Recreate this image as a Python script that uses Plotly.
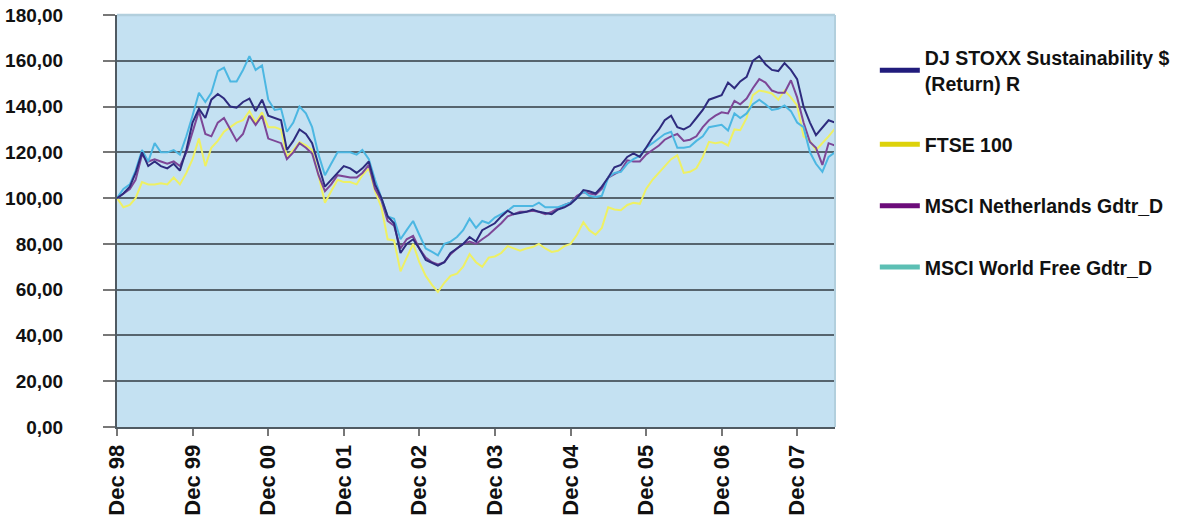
import pandas as pd
import plotly.graph_objects as go

# Monthly observations, Dec 1998 .. Jun 2008
months = pd.date_range("1998-12-01", "2008-06-01", freq="MS")

dj_stoxx = [100, 102, 105, 111, 120, 114, 116, 114, 113, 115, 112, 121, 133, 139, 135, 143, 145.5, 143.5, 140, 139.5,
            142, 143.5, 138, 143, 136, 135, 134, 121, 125, 130, 128, 124, 114, 105, 108, 111, 114, 113, 111, 113,
            116, 106, 100, 92, 89, 76, 80, 82, 78, 73, 71.5, 70.5, 72, 76, 78, 80, 83, 81, 86, 87.5,
            89, 92, 94.5, 93, 93.5, 94, 95, 94, 93.5, 93, 95, 96, 97.5, 100, 103.5, 103, 102, 105, 109, 113.5,
            114.5, 118, 119.5, 118, 122, 126.5, 130, 134, 136, 131, 130, 131.5, 135, 138.5, 143, 144, 145, 150.5, 148, 151,
            153, 160, 162, 158.5, 156, 155.5, 159, 156, 152, 140, 133, 127.5, 131, 134, 133]

ftse_100 = [100, 96, 97, 100, 107, 106, 106, 106.5, 106, 109, 106, 111, 117, 126, 114, 122, 125, 129, 131, 133,
            134, 138, 133, 137.5, 131, 131, 130, 118, 121, 124.5, 123, 121, 110, 98, 103, 108, 107, 107, 106, 110,
            113, 103, 96, 82, 81.5, 68, 74, 80, 72, 66, 62, 59, 63, 66, 67, 70, 75.5, 72, 70, 74,
            74.5, 76, 79, 78, 77, 78, 78.6, 80, 78, 76.5, 77, 79, 80, 84, 89.5, 86, 84, 87, 96, 95,
            94.7, 97, 98, 97.5, 104, 108, 111, 113.6, 117, 118.7, 111, 111.5, 113, 118, 124.6, 124, 124.5, 123, 130, 129.7,
            135, 145, 147, 146.5, 145.7, 143, 147, 144, 140.5, 127, 125, 121, 124, 127, 130.4]

msci_nl = [100, 102, 104, 108, 119, 116, 117, 116, 115, 116, 114, 120, 129, 138, 128, 127, 133, 135, 130, 125,
           128, 136, 132, 136, 126, 125, 124, 117, 120, 124, 122, 119.5, 110, 103, 106, 110, 109.5, 109, 109, 111,
           114.5, 104, 99, 90, 88, 78, 82, 83.5, 78, 74, 72, 71, 72, 75.5, 78, 80, 81, 80, 82, 84,
           86.5, 89, 92, 93, 94, 94, 94.5, 94, 93, 94, 95.5, 97, 98, 101, 102.5, 102, 101.5, 104, 109, 110.5,
           112, 116.5, 116, 116, 119, 121, 123, 125.5, 127, 128, 125, 125.5, 127, 131, 134, 136, 137.5, 137, 142.5, 141,
           143.5, 148, 152, 150.5, 147, 146, 146, 151.5, 144, 133, 124.5, 122, 114.5, 124, 123]

msci_world = [100, 104, 106, 112, 121, 116, 124, 120, 120, 121, 119, 127, 136, 146, 142, 146, 155.5, 157, 151, 151,
              156, 162, 156, 158, 143, 138.5, 139, 129, 133, 140, 137, 131, 119, 110, 115, 120, 120, 120, 119, 121,
              117, 108, 100, 92, 91, 82, 86, 90, 84, 78, 76.5, 75, 80, 81, 83, 86, 91, 87, 90, 89,
              91.5, 93, 94.5, 96.5, 96.5, 96.5, 96.5, 98, 96, 96, 96, 97, 98, 100, 103, 101, 100.5, 101, 109, 111,
              111.5, 115, 117, 118.5, 122, 124, 126, 128, 129, 122, 122, 122.5, 125, 127, 131, 131.5, 132, 129.5, 137, 135,
              137, 141, 143, 141, 138.5, 139, 140.5, 138, 133, 131, 120, 115, 111.5, 118, 120]

series_names = ["DJ STOXX Sustainability $<br>(Return) R", "FTSE 100",
                "MSCI Netherlands Gdtr_D", "MSCI World Free Gdtr_D"]
line_colors = ["#2e2b7e", "#eef064", "#7d4797", "#4cb7e2"]
legend_colors = ["#211c7c", "#ddd20a", "#6c0c7a", "#5cbfb4"]

y_ticks = [0, 20, 40, 60, 80, 100, 120, 140, 160, 180]
y_tick_text = ["0,00", "20,00", "40,00", "60,00", "80,00", "100,00",
               "120,00", "140,00", "160,00", "180,00"]

fig = go.Figure()
data = [dj_stoxx, ftse_100, msci_nl, msci_world]
draw_order = [1, 2, 3, 0]
for k in draw_order:
    fig.add_trace(go.Scatter(x=months, y=data[k], mode="lines",
                             line=dict(color=line_colors[k], width=2),
                             showlegend=False, hoverinfo="x+y", name=series_names[k]))
# legend entries (legend swatches use their own colours, as in the original)
for k in range(4):
    fig.add_trace(go.Scatter(x=[None], y=[None], mode="lines",
                             line=dict(color=legend_colors[k], width=5),
                             name=series_names[k], legendgroup=str(k), showlegend=True))

font_family = "Liberation Sans, Arial, sans-serif"

fig.update_layout(
    width=1179, height=520,
    margin=dict(l=117, r=344, t=15, b=93),
    paper_bgcolor="white",
    plot_bgcolor="#c4e1f2",
    font=dict(family=font_family, color="#111111"),
    legend=dict(
        xref="container", yref="container",
        x=0.742, y=0.926, xanchor="left", yanchor="top",
        font=dict(family=font_family, size=19.5, color="#111111", weight="bold"),
        tracegroupgap=33, bgcolor="rgba(0,0,0,0)", valign="middle",
        itemwidth=40,
    ),
    xaxis=dict(
        range=[months[0], months[-1]],
        automargin=False,
        tickmode="array",
        tickvals=[months[i] for i in range(0, len(months), 12)],
        tickformat="%b %y",
        tickangle=-90,
        ticks="outside", ticklen=7, tickcolor="#777777", tickwidth=1.5,
        showgrid=False, zeroline=False,
        showline=True, linecolor="#4f5a62", linewidth=2,
        tickfont=dict(family=font_family, size=22, color="#111111", weight="bold"),
    ),
    yaxis=dict(
        range=[0, 180],
        automargin=False,
        tickmode="array", tickvals=y_ticks, ticktext=y_tick_text,
        ticks="outside", ticklen=12, tickcolor="#777777", tickwidth=1.5,
        showgrid=True, gridcolor="#56646e", gridwidth=1.6,
        zeroline=False,
        showline=True, linecolor="#4f5a62", linewidth=2,
        ticklabelstandoff=36,
        tickfont=dict(family=font_family, size=19, color="#111111", weight="bold"),
    ),
    shapes=[
        dict(type="line", xref="paper", yref="paper", x0=0, x1=1, y0=1, y1=1,
             line=dict(color="#b2cfdd", width=2.5), layer="above"),
        dict(type="line", xref="paper", yref="paper", x0=1, x1=1, y0=0, y1=1,
             line=dict(color="#b2cfdd", width=2), layer="above"),
    ],
)

fig.write_html("out.html",
               config={"displayModeBar": False},
               post_script="document.body.style.margin='0';document.body.style.overflow='hidden';")
